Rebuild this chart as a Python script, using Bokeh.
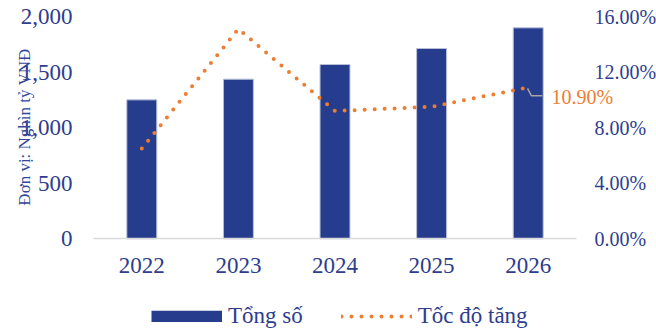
import numpy as np
from bokeh.plotting import figure
from bokeh.models import (Range1d, LinearAxis, FixedTicker, NumeralTickFormatter,
                          Label, Legend, LegendItem)
from bokeh.embed import file_html
from bokeh.resources import INLINE

# ---- data ----
years = [2022, 2023, 2024, 2025, 2026]
totals = [1250, 1436, 1568, 1712, 1898]          # Tổng số (nghìn tỷ VNĐ)
growth = [0.065, 0.151, 0.092, 0.095, 0.109]     # Tốc độ tăng
left_ticks = [0, 500, 1000, 1500, 2000]
right_ticks = [0.0, 0.04, 0.08, 0.12, 0.16]
y_title = "Đơn vị: Nghìn tỷ VNĐ"
series_names = ["Tổng số", "Tốc độ tăng"]

BLUE_BAR = "#263C8C"
TXT = "#2E3D8E"
ORANGE = "#ED7D31"
FONT = "Liberation Serif"

# ---- layout (pixels) ----
W, H = 656, 331
X_LEFT, X_RIGHT = 93.0, 576.0      # pixel span of the category band
Y_ZERO, Y_TOP = 238.3, 16.0        # pixel of 0 and of the top tick
pxx = (X_RIGHT - X_LEFT) / len(years)
x0 = years[0] - 0.5
x1 = years[-1] + 0.5
xr = Range1d(x0 - X_LEFT / pxx, x1 + (W - X_RIGHT) / pxx)
lmax = left_ticks[-1]
pyl = (Y_ZERO - Y_TOP) / lmax
yr = Range1d(-(H - Y_ZERO) / pyl, lmax + Y_TOP / pyl)
rmax = right_ticks[-1]
pyr = (Y_ZERO - Y_TOP) / rmax
pr = Range1d(-(H - Y_ZERO) / pyr, rmax + Y_TOP / pyr)

p = figure(width=W, height=H, x_range=xr, y_range=yr,
           output_backend="svg", toolbar_location=None,
           min_border=0, min_border_left=0, min_border_right=0,
           min_border_top=0, min_border_bottom=0)
p.outline_line_color = None
p.xgrid.visible = False
p.ygrid.visible = False
p.extra_y_ranges = {"pct": pr}

bars = p.vbar(x=years, top=totals, width=0.31, fill_color=BLUE_BAR,
              line_color="#B7BFD9", line_width=1)

line = p.line(years, growth, y_range_name="pct", line_color=ORANGE, line_width=4,
              line_dash="0 10", line_cap="round")

# legend-only swatch for the bars (hidden in the plot): a thick flat bar
bar_swatch = p.line(years, totals, line_color=BLUE_BAR, line_width=11.7,
                    line_cap="butt", visible=False)

# leader line + data label for last value
lx = [years[-1] - 0.007, years[-1] + 0.034, years[-1] + 0.145]
ly = [growth[-1] - 0.0007, growth[-1] - 0.0061, growth[-1] - 0.0061]
p.line(lx, ly, y_range_name="pct", line_color="#A6A6A6", line_width=1.5)
p.add_layout(Label(x=years[-1] + 0.24, y=growth[-1] - 0.0068, y_range_name="pct",
                   text=f"{growth[-1]*100:.2f}%", text_color=ORANGE, text_font=FONT,
                   text_font_size="20px", text_baseline="middle", text_align="left"))

# axes
xa = p.xaxis[0]
xa.fixed_location = 0
xa.bounds = (x0, x1)
xa.ticker = FixedTicker(ticks=years)
xa.axis_line_color = "#D9D9D9"
xa.axis_line_width = 1.5
xa.major_tick_line_color = None
xa.minor_tick_line_color = None
xa.major_tick_out = 0
xa.major_tick_in = 0
xa.major_label_standoff = 19
xa.major_label_text_font = FONT
xa.major_label_text_font_size = "23px"
xa.major_label_text_color = TXT

ya = p.yaxis[0]
ya.fixed_location = x0
ya.ticker = FixedTicker(ticks=left_ticks)
ya.formatter = NumeralTickFormatter(format="0,0")
ya.axis_line_color = None
ya.major_tick_line_color = None
ya.minor_tick_line_color = None
ya.major_tick_out = 0
ya.major_tick_in = 0
ya.major_label_standoff = 21
ya.major_label_text_font = FONT
ya.major_label_text_font_size = "23px"
ya.major_label_text_color = TXT

ra = LinearAxis(y_range_name="pct", ticker=FixedTicker(ticks=right_ticks),
                formatter=NumeralTickFormatter(format="0.00%"))
ra.fixed_location = x1
ra.axis_line_color = None
ra.major_tick_line_color = None
ra.minor_tick_line_color = None
ra.major_tick_out = 0
ra.major_tick_in = 0
ra.major_label_standoff = 18
ra.major_label_text_font = FONT
ra.major_label_text_font_size = "20px"
ra.major_label_text_color = TXT
p.add_layout(ra, "right")

# rotated unit title overlapping the left tick labels
p.add_layout(Label(x=23.5, y=H - 126.5, x_units="screen", y_units="screen", text=y_title,
                   angle=np.pi / 2, text_font=FONT, text_font_size="17px",
                   text_color="#32479A", text_align="center", text_baseline="middle"))

legend = Legend(items=[LegendItem(label=series_names[0], renderers=[bar_swatch]),
                       LegendItem(label=series_names[1], renderers=[line])],
                orientation="horizontal", location=(151, 2),
                glyph_width=71, glyph_height=12, label_standoff=6, spacing=38,
                label_text_font=FONT, label_text_font_size="23px", label_text_color=TXT,
                inactive_fill_alpha=0,
                border_line_color=None, background_fill_alpha=0, margin=0, padding=0)
p.add_layout(legend, "center")

open("out.html", "w").write(file_html(p, INLINE))
